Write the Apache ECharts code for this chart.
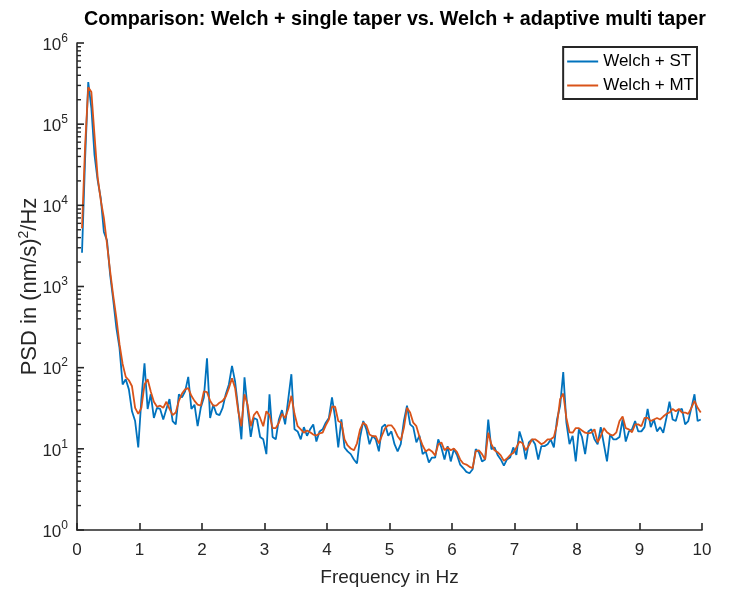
<!DOCTYPE html>
<html>
<head>
<meta charset="utf-8">
<script src="https://cdn.jsdelivr.net/npm/echarts@6/dist/echarts.min.js"></script>
<style>
  html, body { margin: 0; padding: 0; background: #ffffff; }
  #chart { width: 746px; height: 589px; }
</style>
</head>
<body>
<div id="chart"></div>
<script>
// Frequency grid of the PSD estimates (Hz)
const freqStart = 0.08;
const freqStep = 0.05;

// Welch + single taper PSD, (nm/s)^2/Hz
const psdSingleTaper = [
  2600, 38000, 330000, 158000, 41700, 20500, 12300, 4700, 3700, 1400,
  680, 310, 175, 62, 72, 54, 29, 22, 10.4, 41,
  113, 31, 47, 24, 32, 31, 23, 31, 41, 22,
  20, 47, 43, 51, 77, 31, 35, 19, 32, 43,
  130, 24, 35, 27, 26, 32, 47, 62, 105, 67,
  31, 13.1, 76, 31, 14, 24, 23, 14, 13.1, 8.6,
  47, 14, 13.1, 23, 30, 20, 41, 83, 17.4, 16.4,
  13.1, 18.5, 14.5, 17.4, 20, 12.3, 16.4, 17.4, 21, 24,
  43, 24, 10.4, 23, 10.4, 9.3, 8.6, 7.4, 6.6, 14,
  22, 17.4, 11.4, 14.5, 13.1, 9.3, 18.5, 20, 14.5, 16.4,
  11.4, 9.3, 11.4, 22, 34, 20, 18.5, 12, 14.5, 8.6,
  9.3, 6.8, 7.8, 7.8, 13.1, 10.4, 7.4, 10.8, 7, 9.9,
  8.4, 6.4, 5.8, 5.2, 5.0, 5.6, 9.9, 9.1, 7, 7.4,
  23, 9.9, 10.4, 8.4, 7.4, 6.2, 7.4, 7.8, 10.4, 8.4,
  16.4, 12.3, 7.4, 12, 13.1, 11.4, 7.4, 10.8, 10.8, 11.4,
  13, 10.4, 23, 34, 88, 21, 11.4, 14.5, 7, 17.4,
  14, 8.6, 16.4, 17.4, 13.1, 11.4, 18.5, 11.4, 7, 15.1,
  13.1, 13.1, 14, 23, 12.3, 16.4, 17.4, 22, 16.4, 16.4,
  18.5, 31, 18.5, 23, 16.4, 18.5, 15.8, 24, 38, 23,
  22, 30, 31, 20, 22, 32, 47, 22, 23
];

// Welch + adaptive multi taper PSD, (nm/s)^2/Hz
const psdMultiTaper = [
  5200, 55000, 285000, 249000, 73500, 22300, 11600, 7000, 3340, 1550,
  764, 409, 195, 111, 77, 70, 59, 32, 27, 32,
  62, 72, 51, 38, 33, 34, 32, 38, 31, 26,
  28, 39, 48, 54, 56, 45, 39, 35, 34, 51,
  50, 39, 34, 34, 37, 39, 44, 56, 74, 56,
  29, 19, 47, 35, 19, 26, 29, 24, 19, 29,
  26, 18, 18, 21, 27, 24, 31, 45, 27, 19,
  17.4, 15.8, 16.8, 16, 15, 14.6, 15.5, 15.8, 19.5, 23,
  33, 33, 22, 21, 13.1, 11, 10.1, 9.6, 11.7, 17.4,
  21, 19.5, 15, 14.3, 14.3, 11.7, 14.6, 18, 19.5, 19.5,
  17.4, 14.3, 12.7, 18, 32, 28, 21, 19, 14, 11,
  9.3, 9.9, 9.3, 8.3, 11.4, 12, 9.6, 10.4, 9.6, 10.1,
  9.1, 7.4, 6.6, 6.4, 6.0, 5.8, 9.3, 9.6, 8.6, 7.4,
  15.8, 11.4, 9.6, 9.1, 8.3, 7.1, 7.6, 8.4, 8.9, 10.4,
  12.3, 11.7, 9.6, 11, 13.1, 13.1, 12.3, 11.4, 12, 13.1,
  13.1, 14, 20, 41, 48, 24, 16, 15.8, 18, 18,
  16.8, 15.8, 15.5, 15.8, 17.4, 12, 14.3, 18, 16, 15,
  14.6, 16, 22, 25, 18, 17.4, 16, 20, 20, 19,
  24, 24, 22, 23, 24, 23, 25, 27, 28, 31,
  29, 31, 28, 28, 27, 32, 39, 32, 28
];

const seriesNames = ['Welch + ST', 'Welch + MT'];
const xTickValues = [0, 1, 2, 3, 4, 5, 6, 7, 8, 9, 10];
const yTickExponents = [0, 1, 2, 3, 4, 5, 6];

const freqHz = psdSingleTaper.map((_, i) => +(freqStart + i * freqStep).toFixed(2));

const FONT = '"Liberation Sans", Arial, Helvetica, sans-serif';
const AXIS_COLOR = '#262626';
const MAJOR_TICK_LEN = 7;
const MINOR_TICK_LEN = 4;

// Tick values of the log axis: decades (major) and 2..9 inside each decade (minor)
const yMajorTicks = yTickExponents.map((e) => Math.pow(10, e));
const yMinorTicks = [];
for (let e = yTickExponents[0]; e < yTickExponents[yTickExponents.length - 1]; e++) {
  for (let m = 2; m <= 9; m++) yMinorTicks.push(m * Math.pow(10, e));
}

const chart = echarts.init(document.getElementById('chart'), null, { renderer: 'canvas' });

chart.setOption({
  animation: false,
  backgroundColor: '#ffffff',
  title: {
    text: 'Comparison: Welch + single taper vs. Welch + adaptive multi taper',
    left: 84,
    top: 10,
    padding: 0,
    textStyle: { fontFamily: FONT, fontSize: 19.7, fontWeight: 'bold', color: '#000000' }
  },
  legend: {
    data: seriesNames,
    orient: 'vertical',
    right: 49,
    top: 47,
    padding: [6, 3, 5, 4],
    itemGap: 7,
    itemWidth: 31,
    itemHeight: 2,
    icon: 'rect',
    borderColor: AXIS_COLOR,
    borderWidth: 2,
    borderRadius: 0,
    backgroundColor: '#ffffff',
    textStyle: { fontFamily: FONT, fontSize: 17, color: '#000000' }
  },
  grid: { left: 77, right: 44, top: 43, bottom: 59, outerBoundsMode: 'none' },
  xAxis: {
    type: 'value',
    min: xTickValues[0],
    max: xTickValues[xTickValues.length - 1],
    interval: 1,
    name: 'Frequency in Hz',
    nameLocation: 'middle',
    nameGap: 38,
    nameMoveOverlap: false,
    nameTextStyle: { fontFamily: FONT, fontSize: 19, color: AXIS_COLOR },
    axisLine: { show: true, onZero: false, lineStyle: { color: AXIS_COLOR, width: 1.6 } },
    axisTick: { show: true, inside: true, length: MAJOR_TICK_LEN, lineStyle: { color: AXIS_COLOR, width: 1.6 } },
    axisLabel: { margin: 12, fontFamily: FONT, fontSize: 17, color: AXIS_COLOR },
    splitLine: { show: false }
  },
  yAxis: {
    type: 'log',
    logBase: 10,
    min: yMajorTicks[0],
    max: yMajorTicks[yMajorTicks.length - 1],
    interval: 1,
    splitNumber: 6,
    name: '{t|PSD in (nm/s)}{u|2}{t|/Hz}',
    nameLocation: 'middle',
    nameGap: 36,
    nameMoveOverlap: false,
    nameTextStyle: {
      rich: {
        t: { fontFamily: FONT, fontSize: 22, color: AXIS_COLOR, verticalAlign: 'bottom' },
        u: { fontFamily: FONT, fontSize: 14, color: AXIS_COLOR, verticalAlign: 'bottom', padding: [0, 0, 10, 0] }
      }
    },
    axisLine: { show: true, lineStyle: { color: AXIS_COLOR, width: 1.6 } },
    axisTick: { show: false },
    axisLabel: {
      margin: 9,
      formatter: (v) => '{b|10}{s|' + Math.round(Math.log10(v)) + '}',
      rich: {
        b: { fontFamily: FONT, fontSize: 17, color: AXIS_COLOR, verticalAlign: 'bottom' },
        s: { fontFamily: FONT, fontSize: 12, color: AXIS_COLOR, verticalAlign: 'bottom', padding: [0, 0, 9, 0] }
      }
    },
    splitLine: { show: false }
  },
  series: [
    {
      name: seriesNames[0],
      type: 'line',
      data: freqHz.map((f, i) => [f, psdSingleTaper[i]]),
      showSymbol: false,
      symbol: 'none',
      lineStyle: { color: '#0072BD', width: 1.8 },
      itemStyle: { color: '#0072BD' },
      z: 2
    },
    {
      name: seriesNames[1],
      type: 'line',
      data: freqHz.map((f, i) => [f, psdMultiTaper[i]]),
      showSymbol: false,
      symbol: 'none',
      lineStyle: { color: '#D95319', width: 1.8 },
      itemStyle: { color: '#D95319' },
      z: 3
    }
  ]
});

// Inward tick marks on the log axis, positioned through the axis scale
const axisX = chart.convertToPixel({ xAxisIndex: 0 }, xTickValues[0]);
const tickLine = (v, len, w) => {
  const y = chart.convertToPixel({ yAxisIndex: 0 }, v);
  return {
    type: 'line',
    silent: true,
    z: 100,
    shape: { x1: axisX, y1: y, x2: axisX + len, y2: y },
    style: { stroke: AXIS_COLOR, lineWidth: w }
  };
};
chart.setOption({
  graphic: [
    ...yMajorTicks.map((v) => tickLine(v, MAJOR_TICK_LEN, 1.6)),
    ...yMinorTicks.map((v) => tickLine(v, MINOR_TICK_LEN, 1.4))
  ]
});
</script>
</body>
</html>
